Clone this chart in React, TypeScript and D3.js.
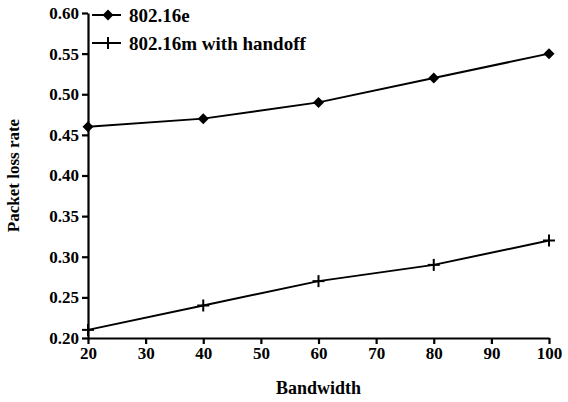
import React, { useEffect, useRef } from 'react';
import * as d3 from 'd3';

const bandwidth = [20, 40, 60, 80, 100];
const series80216e = [0.46, 0.47, 0.49, 0.52, 0.55];
const series80216m = [0.21, 0.24, 0.27, 0.29, 0.32];
const xTicks = [20, 30, 40, 50, 60, 70, 80, 90, 100];
const yTicks = [0.2, 0.25, 0.3, 0.35, 0.4, 0.45, 0.5, 0.55, 0.6];
const seriesNames = ['802.16e', '802.16m with handoff'];

const WIDTH = 568;
const HEIGHT = 402;
const FONT = "'Times New Roman', Times, 'Liberation Serif', 'DejaVu Serif', serif";

const App: React.FC = () => {
  const svgRef = useRef<SVGSVGElement>(null);

  useEffect(() => {
    if (!svgRef.current) return;
    const svg = d3.select(svgRef.current);
    svg.selectAll('*').remove();

    const margin = { top: 13, right: 19, bottom: 64, left: 88 };
    const x = d3.scaleLinear().domain([20, 100]).range([margin.left, WIDTH - margin.right]);
    const y = d3.scaleLinear().domain([0.2, 0.6]).range([HEIGHT - margin.bottom, margin.top]);

    // axes
    const xAxis = d3.axisBottom(x).tickValues(xTicks).tickSize(6).tickSizeOuter(0).tickPadding(3);
    const yAxis = d3.axisLeft(y).tickValues(yTicks).tickSize(6).tickSizeOuter(0).tickPadding(3)
      .tickFormat(d => (d as number).toFixed(2));

    const gx = svg.append('g')
      .attr('transform', `translate(0,${y(0.2)})`)
      .call(xAxis);
    const gy = svg.append('g')
      .attr('transform', `translate(${x(20)},0)`)
      .call(yAxis);

    [gx, gy].forEach(g => {
      g.attr('font-family', null).attr('font-size', null);
      g.selectAll('path, line').attr('stroke', '#000').attr('stroke-width', 2.2);
      g.selectAll('text')
        .attr('fill', '#000')
        .style('font-family', FONT)
        .style('font-size', '17px')
        .style('font-weight', 'bold');
    });

    const line = d3.line<number>()
      .x((_, i) => x(bandwidth[i]))
      .y(d => y(d));

    // series 1: diamonds
    svg.append('path')
      .datum(series80216e)
      .attr('d', line)
      .attr('fill', 'none')
      .attr('stroke', '#000')
      .attr('stroke-width', 2);

    const diamond = 'M0,-5.5L5.5,0L0,5.5L-5.5,0Z';
    svg.selectAll('.pt-e')
      .data(series80216e)
      .enter()
      .append('path')
      .attr('class', 'pt-e')
      .attr('transform', (d, i) => `translate(${x(bandwidth[i])},${y(d)})`)
      .attr('d', diamond)
      .attr('fill', '#000');

    // series 2: crosses
    svg.append('path')
      .datum(series80216m)
      .attr('d', line)
      .attr('fill', 'none')
      .attr('stroke', '#000')
      .attr('stroke-width', 2);

    const drawCross = (g: d3.Selection<SVGGElement, unknown, null, undefined>, cx: number, cy: number) => {
      g.append('line').attr('x1', cx - 6).attr('x2', cx + 6).attr('y1', cy).attr('y2', cy)
        .attr('stroke', '#000').attr('stroke-width', 2);
      g.append('line').attr('x1', cx).attr('x2', cx).attr('y1', cy - 6).attr('y2', cy + 6)
        .attr('stroke', '#000').attr('stroke-width', 2);
    };
    const crosses = svg.append('g');
    series80216m.forEach((d, i) => drawCross(crosses, x(bandwidth[i]), y(d)));

    // legend
    const legend = svg.append('g');
    const legendX = x(20) + 4;
    seriesNames.forEach((name, i) => {
      const ly = 15 + i * 28;
      legend.append('line')
        .attr('x1', legendX).attr('x2', legendX + 29)
        .attr('y1', ly).attr('y2', ly)
        .attr('stroke', '#000').attr('stroke-width', 2);
      if (i === 0) {
        legend.append('path')
          .attr('transform', `translate(${legendX + 16},${ly})`)
          .attr('d', diamond)
          .attr('fill', '#000');
      } else {
        drawCross(legend, legendX + 16, ly);
      }
      legend.append('text')
        .attr('x', legendX + 37)
        .attr('y', ly + 7)
        .style('font-family', FONT)
        .style('font-size', '19px')
        .style('font-weight', 'bold')
        .attr('fill', '#000')
        .text(name);
    });

    // axis titles
    svg.append('text')
      .attr('x', (x(20) + x(100)) / 2)
      .attr('y', 394)
      .attr('text-anchor', 'middle')
      .style('font-family', FONT)
      .style('font-size', '18px')
      .style('font-weight', 'bold')
      .attr('fill', '#000')
      .text('Bandwidth');

    svg.append('text')
      .attr('transform', `translate(19,${(y(0.2) + y(0.6)) / 2}) rotate(-90)`)
      .attr('text-anchor', 'middle')
      .style('font-family', FONT)
      .style('font-size', '17px')
      .style('font-weight', 'bold')
      .attr('fill', '#000')
      .text('Packet loss rate');
  }, []);

  return (
    <div style={{ position: 'absolute', left: 0, top: 0, width: WIDTH, height: HEIGHT, background: '#fff' }}>
      <svg ref={svgRef} width={WIDTH} height={HEIGHT} style={{ display: 'block' }}></svg>
    </div>
  );
};

export default App;
